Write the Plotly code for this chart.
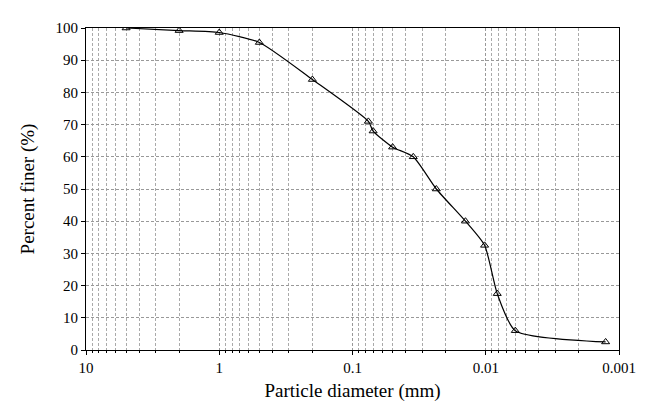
import plotly.graph_objects as go

diam = [5, 2, 1, 0.5, 0.2, 0.076, 0.070, 0.050, 0.035, 0.0235, 0.0142, 0.0102, 0.0082, 0.006, 0.00126]
finer = [100, 99.2, 98.6, 95.5, 84, 71, 68, 63, 60, 50, 40, 32.5, 17.5, 6, 2.5]

F = "Liberation Serif"
fig = go.Figure(go.Scatter(x=diam, y=finer, mode="lines+markers",
    line=dict(color="black", width=1.2, shape="spline", smoothing=0.6),
    marker=dict(symbol="triangle-up-open", size=7, color="black", line=dict(width=1))))
ax = dict(showline=True, linecolor="black", mirror=True, ticks="outside", ticklen=4,
          tickcolor="black", gridcolor="#999999", griddash="3px,2px", gridwidth=0.7,
          tickfont=dict(family=F, size=15, color="black"),
          title_font=dict(family=F, size=19, color="black"))
fig.update_xaxes(type="log", range=[1, -3], tickvals=[10, 1, 0.1, 0.01, 0.001],
    ticktext=["10", "1", "0.1", "0.01", "0.001"], title_text="Particle diameter (mm)",
    title_standoff=8,
    minor=dict(dtick="D1", showgrid=True, gridcolor="#aaaaaa", griddash="3px,2px", gridwidth=0.6,
               ticks="outside", ticklen=2, tickcolor="black"), **ax)
fig.update_yaxes(range=[0, 100], dtick=10, title_text="Percent finer (%)", **ax)
fig.update_layout(width=640, height=404, plot_bgcolor="white", paper_bgcolor="white",
    font=dict(family=F), showlegend=False,
    margin=dict(l=78, r=26, t=12, b=62))
fig.write_html("out.html")
